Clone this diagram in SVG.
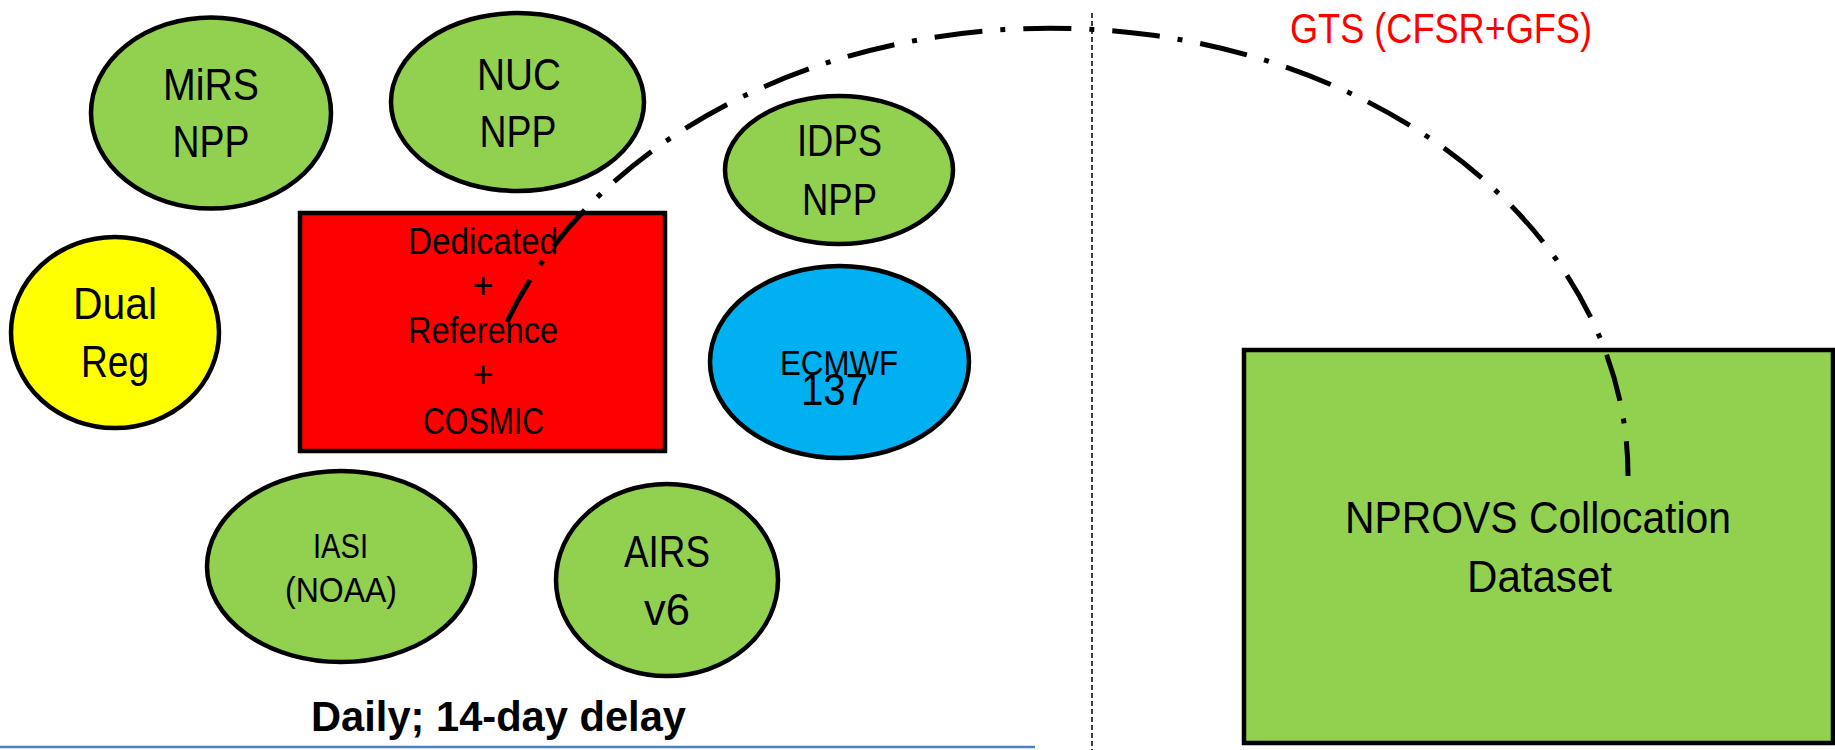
<svg xmlns="http://www.w3.org/2000/svg" width="1835" height="750" viewBox="0 0 1835 750">
<style>
.node{stroke:#000;stroke-width:4.5}
.green{fill:#92D050}
.yellow{fill:#FFFF00}
.red{fill:#FF0000}
.blue{fill:#00B0F0}
text{font-family:'Liberation Sans Narrow','Liberation Sans',Arial,sans-serif;fill:#000;text-anchor:middle}
.t44{font-size:44px}
.t36{font-size:36px}
.t35{font-size:35px}
.t42{font-size:42px}
.bold{font-weight:bold}
.arc{fill:none;stroke:#000;stroke-width:5;stroke-dasharray:48 18 5 18}
</style>
<rect width="1835" height="750" fill="#fff"/>
<line x1="0" y1="747" x2="1035" y2="747" stroke="#4F81BD" stroke-width="2.5"/>
<line x1="1092" y1="13" x2="1092" y2="750" stroke="#000" stroke-width="1.5" stroke-dasharray="5 3"/>
<g id="mirs">
<ellipse class="node green" cx="211" cy="113" rx="120" ry="95.5"/>
<text class="t44" x="211" y="100" textLength="96" lengthAdjust="spacingAndGlyphs">MiRS</text>
<text class="t44" x="211" y="157" textLength="77" lengthAdjust="spacingAndGlyphs">NPP</text>
</g>
<g id="nuc">
<ellipse class="node green" cx="517.5" cy="102" rx="126.5" ry="89"/>
<text class="t44" x="519" y="90" textLength="84" lengthAdjust="spacingAndGlyphs">NUC</text>
<text class="t44" x="518" y="147" textLength="77" lengthAdjust="spacingAndGlyphs">NPP</text>
</g>
<g id="idps">
<ellipse class="node green" cx="839" cy="170" rx="114" ry="74"/>
<text class="t44" x="839.5" y="156" textLength="85" lengthAdjust="spacingAndGlyphs">IDPS</text>
<text class="t44" x="839.5" y="215" textLength="75" lengthAdjust="spacingAndGlyphs">NPP</text>
</g>
<g id="dualreg">
<ellipse class="node yellow" cx="115" cy="332.5" rx="104" ry="95.5"/>
<text class="t44" x="115" y="319" textLength="84" lengthAdjust="spacingAndGlyphs">Dual</text>
<text class="t44" x="115" y="377" textLength="68" lengthAdjust="spacingAndGlyphs">Reg</text>
</g>
<g id="dedicated">
<rect class="node red" x="300" y="213" width="365" height="238"/>
<text class="t36" x="483" y="254" textLength="150" lengthAdjust="spacingAndGlyphs">Dedicated</text>
<text class="t36" x="483" y="298">+</text>
<text class="t36" x="483" y="343" textLength="150" lengthAdjust="spacingAndGlyphs">Reference</text>
<text class="t36" x="483" y="387">+</text>
<text class="t36" x="483.5" y="434" textLength="121" lengthAdjust="spacingAndGlyphs">COSMIC</text>
</g>
<g id="ecmwf">
<ellipse class="node blue" cx="839.5" cy="362" rx="129.5" ry="96"/>
<text class="t35" x="839" y="375" textLength="118" lengthAdjust="spacingAndGlyphs">ECMWF</text>
<text class="t44" x="834.5" y="405" textLength="67" lengthAdjust="spacingAndGlyphs">137</text>
</g>
<g id="iasi">
<ellipse class="node green" cx="341" cy="566.5" rx="134" ry="95.5"/>
<text class="t35" x="340.5" y="558" textLength="55" lengthAdjust="spacingAndGlyphs">IASI</text>
<text class="t35" x="341" y="602" textLength="112" lengthAdjust="spacingAndGlyphs">(NOAA)</text>
</g>
<g id="airs">
<ellipse class="node green" cx="667" cy="580" rx="111" ry="96"/>
<text class="t44" x="667" y="567" textLength="86" lengthAdjust="spacingAndGlyphs">AIRS</text>
<text class="t44" x="667" y="625" textLength="46" lengthAdjust="spacingAndGlyphs">v6</text>
</g>
<g id="nprovs">
<rect class="node green" x="1244" y="350" width="589" height="393"/>
<text class="t44" x="1538" y="533" textLength="386" lengthAdjust="spacingAndGlyphs">NPROVS Collocation</text>
<text class="t44" x="1539.5" y="592" textLength="145" lengthAdjust="spacingAndGlyphs">Dataset</text>
</g>
<g id="labels">
<text class="t42 bold" x="498.5" y="731" textLength="375" lengthAdjust="spacingAndGlyphs">Daily; 14-day delay</text>
<text class="t42" x="1441" y="43" textLength="302" lengthAdjust="spacingAndGlyphs" style="fill:#FF0000">GTS (CFSR+GFS)</text>
</g>
<g id="connectors">
<path class="arc" d="M 507 322 A 578 447 0 0 1 1628 476"/>
</g>
</svg>
